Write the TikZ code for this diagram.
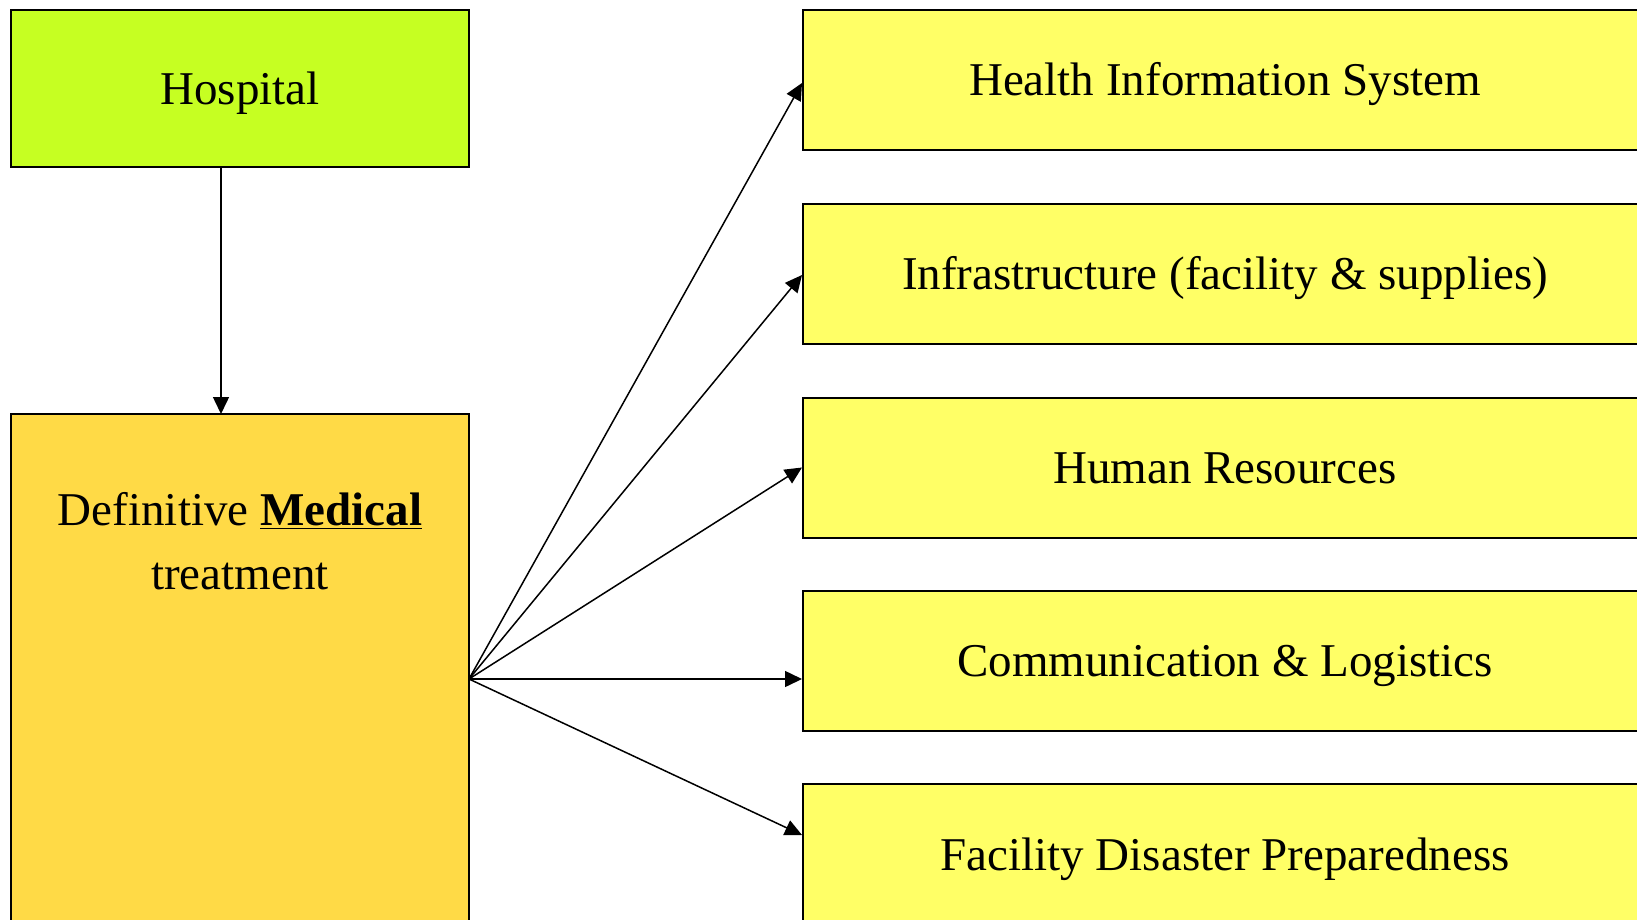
\documentclass[tikz,border=0pt]{standalone}
\usepackage{fontspec}
\setmainfont{Liberation Serif}
\usetikzlibrary{arrows.meta,calc}
\definecolor{hospgreen}{HTML}{C6FF22}
\definecolor{medorange}{HTML}{FFDA46}
\definecolor{boxyellow}{HTML}{FFFF66}
\tikzset{
  box/.style={draw=black, line width=1pt, rectangle, inner sep=0pt},
  txt/.style={font=\fontsize{23.5pt}{32pt}\selectfont, align=center, inner sep=0pt},
  linetxt/.style={txt, text height=16pt, text depth=0pt},
  conn/.style={line width=0.75pt, -{Triangle[length=8.5pt,width=8pt]}},
}
\begin{document}
\begin{tikzpicture}[x=0.5pt,y=-0.5pt]
\useasboundingbox (0,0) rectangle (1637,920);
\begin{scope}
\clip (0,0) rectangle (1637,920);
% left boxes
\node[box, fill=hospgreen, minimum width=229pt, minimum height=78.5pt] (hosp) at (240,88.5) {};
\node[linetxt] (hosptxt) at (240,88.5) {Hospital};
\node[box, fill=medorange, minimum width=229pt, minimum height=293pt] (med) at (240,707) {};
\node[txt] (medtxt) at (240,541) {Definitive \underline{\textbf{Medical}}\\treatment};
% right boxes
\node[box, fill=boxyellow, minimum width=422pt, minimum height=70pt] (b1) at (1225,80) {};
\node[box, fill=boxyellow, minimum width=422pt, minimum height=70pt] (b2) at (1225,273.5) {};
\node[box, fill=boxyellow, minimum width=422pt, minimum height=70pt] (b3) at (1225,467.5) {};
\node[box, fill=boxyellow, minimum width=422pt, minimum height=70pt] (b4) at (1225,660.5) {};
\node[box, fill=boxyellow, minimum width=422pt, minimum height=70pt] (b5) at (1225,854) {};
\node[linetxt] (t1) at (1225,80) {Health Information System};
\node[linetxt] (t2) at (1225,273.5) {Infrastructure (facility \& supplies)};
\node[linetxt] (t3) at (1225,467.5) {Human Resources};
\node[linetxt] (t4) at (1225,660.5) {Communication \& Logistics};
\node[linetxt] (t5) at (1225,854) {Facility Disaster Preparedness};
% connectors
\coordinate (src) at (469,679);
\coordinate (hb) at (221,167);
\coordinate (mt) at (221,414);
\draw[conn] (hb) -- (mt);
\draw[conn] (src) -- ([yshift=-1.5pt]b1.west);
\draw[conn] (src) -- ([yshift=-0.75pt]b2.west);
\draw[conn] (src) -- (b3.west);
\draw[conn] (src) -- ([yshift=-9.25pt]b4.west);
\draw[conn] (src) -- ([yshift=9.5pt]b5.west);
\end{scope}
\end{tikzpicture}
\end{document}
